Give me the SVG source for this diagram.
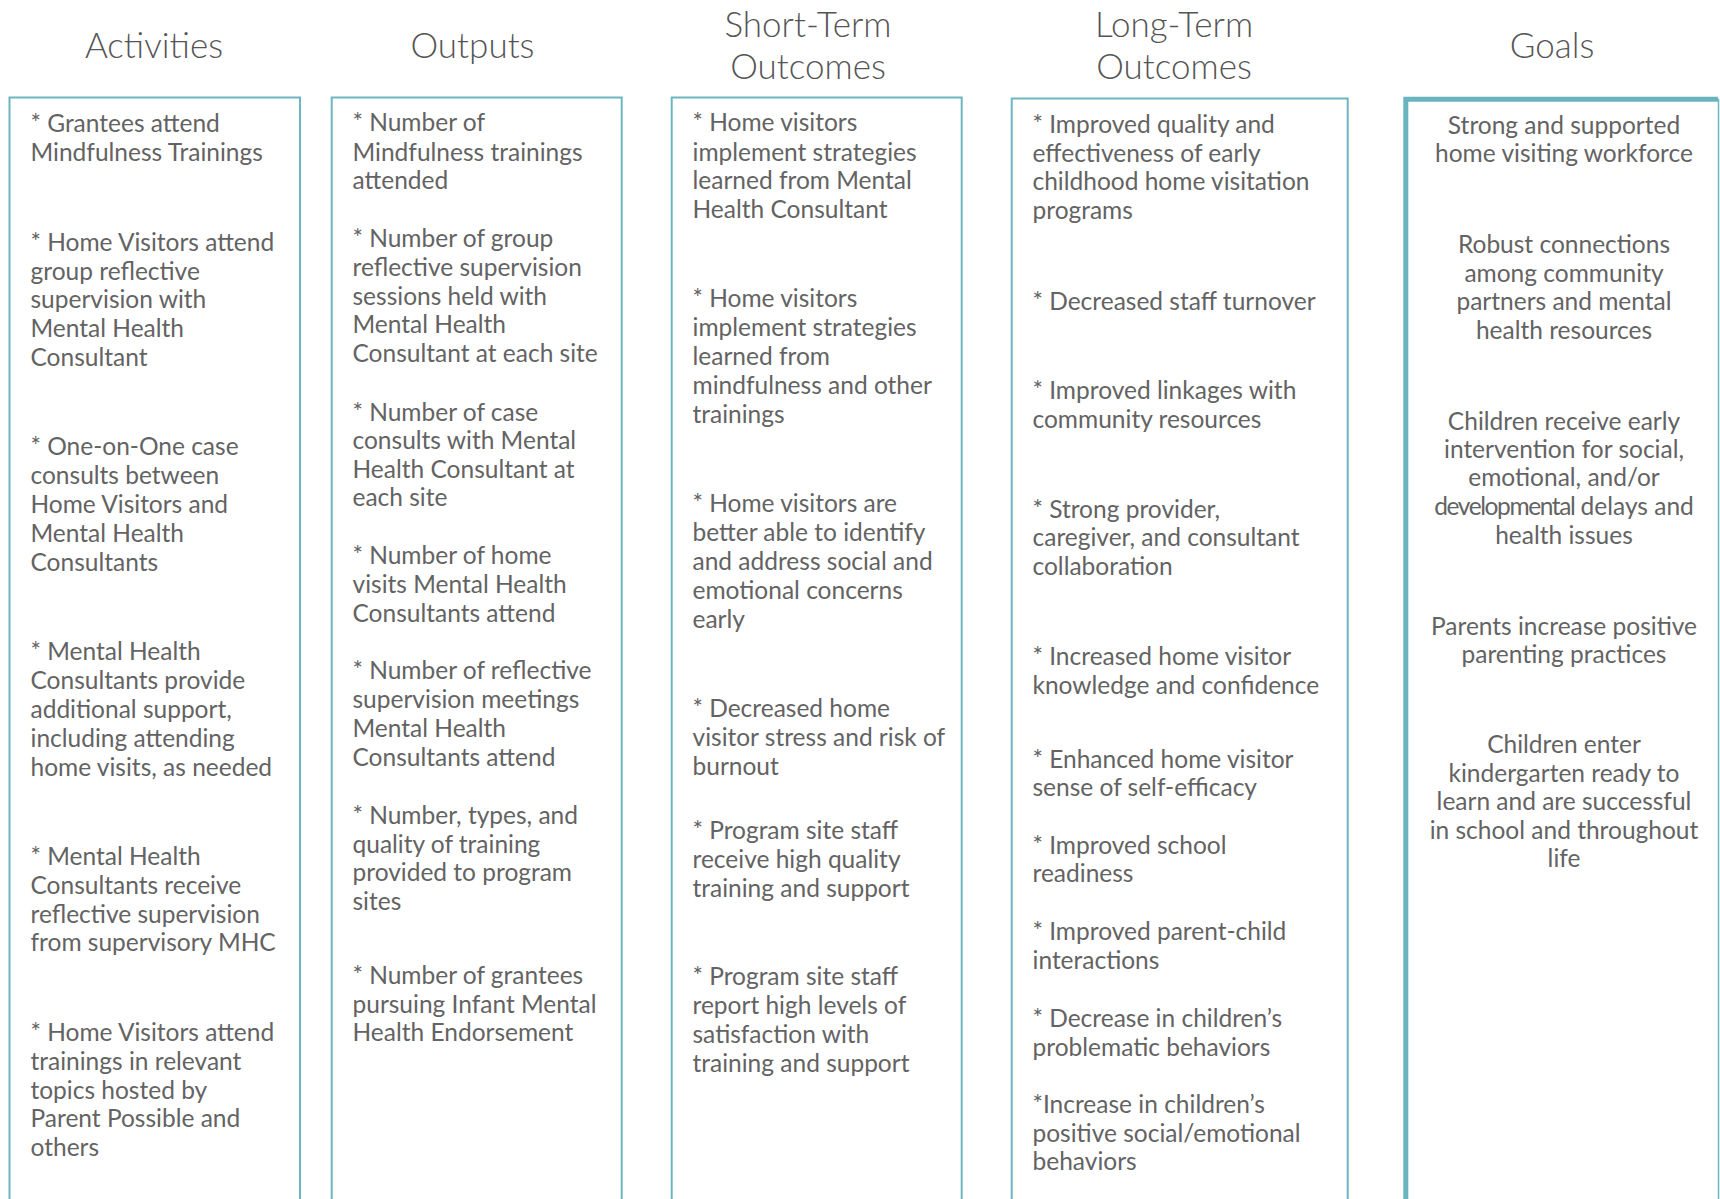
<svg xmlns="http://www.w3.org/2000/svg" width="1720" height="1199" viewBox="0 0 1720 1199">
<style>
.hdr{font-family:Lato,"Liberation Sans",sans-serif;font-size:35px;fill:#555;text-anchor:middle;font-weight:300}
.t{font-family:Lato,"Liberation Sans",sans-serif;font-size:24.5px;fill:#636363;font-weight:400}
.c{text-anchor:middle}
.box{fill:#fff;stroke:#6db5c0;stroke-width:2}
.gbox{fill:#fff;stroke:#6db5c0;stroke-width:1.5}
.gthick{fill:none;stroke:#6ab4bf;stroke-width:5}
</style>
<rect width="1720" height="1199" fill="#fff"/>
<g id="connectors"/>
<g id="activities">
<text class="hdr" x="154" y="58">Activities</text>
<rect class="box" x="9.5" y="97.5" width="290.5" height="1120"/>
<text class="t" x="30.5" y="132"><tspan x="30.5" y="132">* Grantees attend</tspan><tspan x="30.5" y="161">Mindfulness Trainings</tspan></text>
<text class="t"><tspan x="30.5" y="250.5">* Home Visitors attend</tspan><tspan x="30.5" y="279.5">group reflective</tspan><tspan x="30.5" y="308">supervision with</tspan><tspan x="30.5" y="337">Mental Health</tspan><tspan x="30.5" y="366">Consultant</tspan></text>
<text class="t"><tspan x="30.5" y="455">* One-on-One case</tspan><tspan x="30.5" y="484">consults between</tspan><tspan x="30.5" y="513">Home Visitors and</tspan><tspan x="30.5" y="542">Mental Health</tspan><tspan x="30.5" y="570.5">Consultants</tspan></text>
<text class="t"><tspan x="30.5" y="660">* Mental Health</tspan><tspan x="30.5" y="689">Consultants provide</tspan><tspan x="30.5" y="718">additional support,</tspan><tspan x="30.5" y="747">including attending</tspan><tspan x="30.5" y="775.5">home visits, as needed</tspan></text>
<text class="t"><tspan x="30.5" y="864.5">* Mental Health</tspan><tspan x="30.5" y="893.5">Consultants receive</tspan><tspan x="30.5" y="922.5">reflective supervision</tspan><tspan x="30.5" y="951">from supervisory MHC</tspan></text>
<text class="t"><tspan x="30.5" y="1040.5">* Home Visitors attend</tspan><tspan x="30.5" y="1069.5">trainings in relevant</tspan><tspan x="30.5" y="1098.5">topics hosted by</tspan><tspan x="30.5" y="1127">Parent Possible and</tspan><tspan x="30.5" y="1156">others</tspan></text>
</g>
<g id="outputs">
<text class="hdr" x="472.5" y="58">Outputs</text>
<rect class="box" x="331.7" y="97.5" width="290" height="1120"/>
<text class="t"><tspan x="352.5" y="131">* Number of</tspan><tspan x="352.5" y="160.5">Mindfulness trainings</tspan><tspan x="352.5" y="189">attended</tspan></text>
<text class="t"><tspan x="352.5" y="247">* Number of group</tspan><tspan x="352.5" y="276">reflective supervision</tspan><tspan x="352.5" y="304.5">sessions held with</tspan><tspan x="352.5" y="332.5">Mental Health</tspan><tspan x="352.5" y="361.5">Consultant at each site</tspan></text>
<text class="t"><tspan x="352.5" y="420.5">* Number of case</tspan><tspan x="352.5" y="448.5">consults with Mental</tspan><tspan x="352.5" y="477.5">Health Consultant at</tspan><tspan x="352.5" y="506">each site</tspan></text>
<text class="t"><tspan x="352.5" y="564">* Number of home</tspan><tspan x="352.5" y="593">visits Mental Health</tspan><tspan x="352.5" y="622">Consultants attend</tspan></text>
<text class="t"><tspan x="352.5" y="679">* Number of reflective</tspan><tspan x="352.5" y="708">supervision meetings</tspan><tspan x="352.5" y="737">Mental Health</tspan><tspan x="352.5" y="765.5">Consultants attend</tspan></text>
<text class="t"><tspan x="352.5" y="823.5">* Number, types, and</tspan><tspan x="352.5" y="852.5">quality of training</tspan><tspan x="352.5" y="881">provided to program</tspan><tspan x="352.5" y="909.5">sites</tspan></text>
<text class="t"><tspan x="352.5" y="983.5">* Number of grantees</tspan><tspan x="352.5" y="1012.5">pursuing Infant Mental</tspan><tspan x="352.5" y="1040.5">Health Endorsement</tspan></text>
</g>
<g id="short-term-outcomes">
<text class="hdr" x="808" y="37">Short-Term</text>
<text class="hdr" x="808" y="79">Outcomes</text>
<rect class="box" x="671.7" y="97.5" width="290" height="1120"/>
<text class="t"><tspan x="692.5" y="131">* Home visitors</tspan><tspan x="692.5" y="160.5">implement strategies</tspan><tspan x="692.5" y="189">learned from Mental</tspan><tspan x="692.5" y="217.5">Health Consultant</tspan></text>
<text class="t"><tspan x="692.5" y="307">* Home visitors</tspan><tspan x="692.5" y="336">implement strategies</tspan><tspan x="692.5" y="365">learned from</tspan><tspan x="692.5" y="393.5">mindfulness and other</tspan><tspan x="692.5" y="422.5">trainings</tspan></text>
<text class="t"><tspan x="692.5" y="512">* Home visitors are</tspan><tspan x="692.5" y="541">better able to identify</tspan><tspan x="692.5" y="569.5">and address social and</tspan><tspan x="692.5" y="598.5">emotional concerns</tspan><tspan x="692.5" y="627.5">early</tspan></text>
<text class="t"><tspan x="692.5" y="717">* Decreased home</tspan><tspan x="692.5" y="746">visitor stress and risk of</tspan><tspan x="692.5" y="774.5">burnout</tspan></text>
<text class="t"><tspan x="692.5" y="838.5">* Program site staff</tspan><tspan x="692.5" y="867.5">receive high quality</tspan><tspan x="692.5" y="896.5">training and support</tspan></text>
<text class="t"><tspan x="692.5" y="984.5">* Program site staff</tspan><tspan x="692.5" y="1013.5">report high levels of</tspan><tspan x="692.5" y="1042.5">satisfaction with</tspan><tspan x="692.5" y="1071.5">training and support</tspan></text>
</g>
<g id="long-term-outcomes">
<text class="hdr" x="1174" y="37">Long-Term</text>
<text class="hdr" x="1174" y="79">Outcomes</text>
<rect class="box" x="1011.7" y="98.5" width="336" height="1120"/>
<text class="t"><tspan x="1032.5" y="132.5">* Improved quality and</tspan><tspan x="1032.5" y="161.5">effectiveness of early</tspan><tspan x="1032.5" y="190">childhood home visitation</tspan><tspan x="1032.5" y="218.5">programs</tspan></text>
<text class="t"><tspan x="1032.5" y="309.5">* Decreased staff turnover</tspan></text>
<text class="t"><tspan x="1032.5" y="399">* Improved linkages with</tspan><tspan x="1032.5" y="427.5">community resources</tspan></text>
<text class="t"><tspan x="1032.5" y="518">* Strong provider,</tspan><tspan x="1032.5" y="546">caregiver, and consultant</tspan><tspan x="1032.5" y="574.5">collaboration</tspan></text>
<text class="t"><tspan x="1032.5" y="665">* Increased home visitor</tspan><tspan x="1032.5" y="693.5">knowledge and confidence</tspan></text>
<text class="t"><tspan x="1032.5" y="767.5">* Enhanced home visitor</tspan><tspan x="1032.5" y="796">sense of self-efficacy</tspan></text>
<text class="t"><tspan x="1032.5" y="854">* Improved school</tspan><tspan x="1032.5" y="882">readiness</tspan></text>
<text class="t"><tspan x="1032.5" y="940">* Improved parent-child</tspan><tspan x="1032.5" y="968.5">interactions</tspan></text>
<text class="t"><tspan x="1032.5" y="1026.5">* Decrease in children’s</tspan><tspan x="1032.5" y="1055.5">problematic behaviors</tspan></text>
<text class="t"><tspan x="1032.5" y="1112.5">*Increase in children’s</tspan><tspan x="1032.5" y="1141.5">positive social/emotional</tspan><tspan x="1032.5" y="1170">behaviors</tspan></text>
</g>
<g id="goals">
<text class="hdr" x="1552" y="58">Goals</text>
<rect class="gbox" x="1406" y="99.5" width="312.5" height="1120"/>
<path class="gthick" d="M1405.8 1205 V99.2 H1718"/>
<text class="t c"><tspan x="1564" y="134">Strong and supported</tspan><tspan x="1564" y="162">home visiting workforce</tspan></text>
<text class="t c"><tspan x="1564" y="252.5">Robust connections</tspan><tspan x="1564" y="281.5">among community</tspan><tspan x="1564" y="310">partners and mental</tspan><tspan x="1564" y="339">health resources</tspan></text>
<text class="t c"><tspan x="1564" y="429.5">Children receive early</tspan><tspan x="1564" y="458">intervention for social,</tspan><tspan x="1564" y="486">emotional, and/or</tspan><tspan x="1564" y="515"><tspan letter-spacing="-1.4">developmental</tspan> delays and</tspan><tspan x="1564" y="543.5">health issues</tspan></text>
<text class="t c"><tspan x="1564" y="634.5">Parents increase positive</tspan><tspan x="1564" y="663">parenting practices</tspan></text>
<text class="t c"><tspan x="1564" y="752.5">Children enter</tspan><tspan x="1564" y="781.5">kindergarten ready to</tspan><tspan x="1564" y="810">learn and are successful</tspan><tspan x="1564" y="839">in school and throughout</tspan><tspan x="1564" y="866.5">life</tspan></text>
</g>
</svg>
